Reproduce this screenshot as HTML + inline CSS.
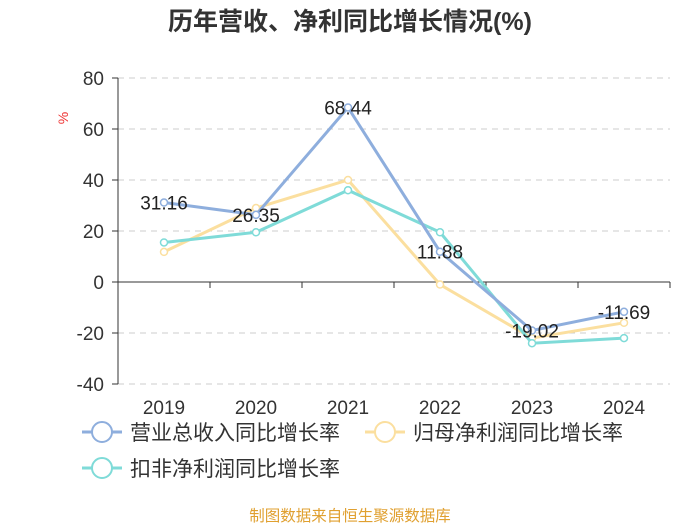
<!DOCTYPE html>
<html><head><meta charset="utf-8">
<style>
body{margin:0;background:#fff;font-family:"Liberation Sans","Noto Sans CJK SC",sans-serif;}
svg text{font-family:"Liberation Sans","Noto Sans CJK SC",sans-serif;}
</style></head>
<body>
<svg id="chart" width="700" height="525">
<text x="350" y="30" text-anchor="middle" font-size="25" font-weight="bold" fill="#333">历年营收、净利同比增长情况(%)</text>
<text x="68" y="118" font-size="14" fill="#e33" transform="rotate(-90 68 118)" text-anchor="middle">%</text>
<g id="grid"></g><g id="axes"></g><g id="series"></g><g id="labels"></g>
<g>
<g><line x1="82" y1="432" x2="122" y2="432" stroke="#8eaedd" stroke-width="3"/><circle cx="102" cy="432" r="10" fill="#fff" stroke="#8eaedd" stroke-width="2"/><text x="130" y="440" font-size="21" fill="#333">营业总收入同比增长率</text></g>
<g><line x1="365" y1="432" x2="405" y2="432" stroke="#fbdf9f" stroke-width="3"/><circle cx="385" cy="432" r="10" fill="#fff" stroke="#fbdf9f" stroke-width="2"/><text x="413" y="440" font-size="21" fill="#333">归母净利润同比增长率</text></g>
<g><line x1="82" y1="468" x2="122" y2="468" stroke="#7fdbd8" stroke-width="3"/><circle cx="102" cy="468" r="10" fill="#fff" stroke="#7fdbd8" stroke-width="2"/><text x="130" y="476" font-size="21" fill="#333">扣非净利润同比增长率</text></g>
</g>
<text x="350" y="521" text-anchor="middle" font-size="15.5" fill="#e0a030">制图数据来自恒生聚源数据库</text>
</svg>
<script>
const categories=["2019","2020","2021","2022","2023","2024"];
const revenue=[31.16,26.35,68.44,11.88,-19.02,-11.69];
const netProfit=[11.8,29,40,-1,-22,-16];
const deducted=[15.5,19.5,36,19.5,-24,-22];
const yTicks=[80,60,40,20,0,-20,-40];
const NS="http://www.w3.org/2000/svg";
const x0=118,x1=670,yTop=78,yBot=384;
const xs=i=>x0+(x1-x0)/6*(i+0.5);
const ys=v=>yTop+(80-v)/120*(yBot-yTop);
function mk(tag,attrs,parent){const e=document.createElementNS(NS,tag);for(const k in attrs)e.setAttribute(k,attrs[k]);document.getElementById(parent).appendChild(e);return e;}
yTicks.forEach(t=>{
 const l=mk('line',{x1:x0,x2:x1,y1:ys(t),y2:ys(t),stroke:'#ccc','stroke-dasharray':t===0?'':'6,5'},'grid');
 
 
 const tx=mk('text',{x:104,y:ys(t)+7,'text-anchor':'end','font-size':19,fill:'#333'},'axes');tx.textContent=t;
 
 
 mk('line',{x1:x0-6,x2:x0,y1:ys(t),y2:ys(t),stroke:'#333'},'axes');
});
mk('line',{x1:x0,x2:x0,y1:yTop,y2:yBot,stroke:'#333'},'axes');
mk('line',{x1:x0,x2:x1,y1:ys(0),y2:ys(0),stroke:'#333'},'axes');
categories.forEach((c,i)=>{
 const tx=mk('text',{x:xs(i),y:414,'text-anchor':'middle','font-size':19,fill:'#333'},'axes');tx.textContent=c;
 
 
 const bx=x0+(x1-x0)/6*(i+1);mk('line',{x1:bx,x2:bx,y1:ys(0),y2:ys(0)+6,stroke:'#333'},'axes');
});
function series(vals,color,name){
 const p=mk('polyline',{points:vals.map((v,i)=>xs(i)+','+ys(v)).join(' '),fill:'none',stroke:color,'stroke-width':3},'series');
 
 
 vals.forEach((v,i)=>{const c=mk('circle',{cx:xs(i),cy:ys(v),r:3.5,fill:'#fff',stroke:color,'stroke-width':1.5},'series');
 
 });
}
series(netProfit,'#fbdf9f','net-profit');
series(deducted,'#7fdbd8','deducted-profit');
series(revenue,'#8eaedd','revenue');
revenue.forEach((v,i)=>{const t=mk('text',{x:xs(i),y:ys(v)+7,'text-anchor':'middle','font-size':19,fill:'#222'},'labels');t.textContent=v.toFixed(2);
 
 });
</script>
</body></html>
